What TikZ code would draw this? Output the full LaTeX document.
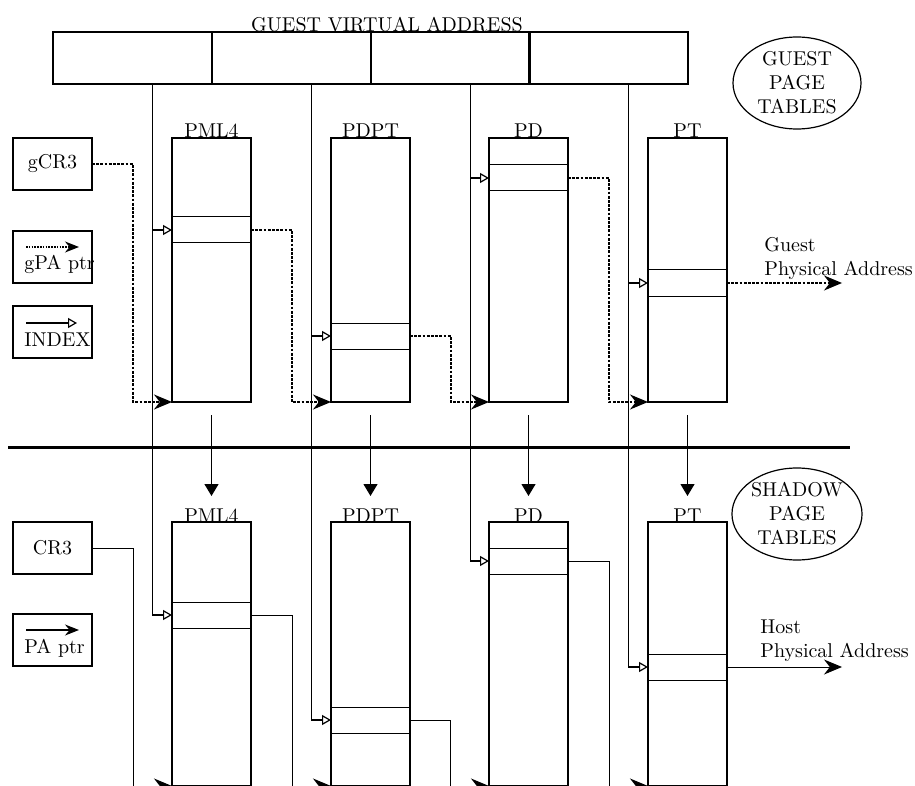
\documentclass[tikz,border=0pt]{standalone}
\usetikzlibrary{arrows.meta,calc,shapes.geometric}
\begin{document}
\begin{tikzpicture}[x=0.5pt,y=-0.5pt,
  tbl/.style={draw,line width=0.6pt,minimum width=39.5pt,minimum height=132pt,inner sep=0,outer sep=0,anchor=north west},
  entry/.style={draw,line width=0.5pt,minimum width=39.5pt,minimum height=13pt,inner sep=0,outer sep=0,anchor=north west},
  gvacell/.style={draw,line width=0.8pt,minimum width=79.5pt,minimum height=26pt,inner sep=0,outer sep=0,anchor=north west},
  legbox/.style={draw,line width=0.6pt,minimum width=39.5pt,minimum height=26pt,inner sep=0,outer sep=0,anchor=north west},
  ttl/.style={anchor=base,inner sep=0},
  gpa/.style={line width=0.7pt,dash pattern=on 1.4pt off 0.7pt,-{Stealth[length=9pt,width=7.5pt]}},
  gpasmall/.style={line width=0.6pt,dash pattern=on 0.8pt off 0.6pt,-{Stealth[length=7pt,width=5.5pt]}},
  pa/.style={line width=0.5pt,-{Stealth[length=9pt,width=7.5pt]}},
  pasmall/.style={line width=0.6pt,-{Stealth[length=7pt,width=5.5pt]}},
  idx/.style={line width=0.6pt,-{Triangle[open,length=4.5pt,width=5pt]}},
  down/.style={line width=0.6pt,-{Triangle[length=6pt,width=7pt]}},
  oval/.style={draw,ellipse,line width=0.6pt,minimum width=64pt,minimum height=46pt,inner sep=0,align=center}
]
\useasboundingbox (0,0) rectangle (915,786);
\clip (0,0) rectangle (915,786);

% Guest virtual address
\node[gvacell] (gva1) at (53,32) {};
\node[gvacell] (gva2) at (212,32) {};
\node[gvacell] (gva3) at (371,32) {};
\node[gvacell] (gva4) at (529,32) {};
\node[ttl] (gvat) at (387,31.5) {GUEST VIRTUAL ADDRESS};

% ellipses
\node[oval] (gpt) at (797,83) {GUEST\\PAGE\\TABLES};
\node[oval] (spt) at (797,514) {SHADOW\\PAGE\\TABLES};

% legend
\node[legbox] (gcr3) at (13,138) {gCR3};
\node[legbox] (lgpa) at (13,231) {};
\node[anchor=base west,inner sep=0] (lgpat) at ($(lgpa.north west)+(11,39)$) {gPA ptr};
\draw[gpasmall] ($(lgpa.north west)+(13,16)$) -- ($(lgpa.north west)+(66,16)$);
\node[legbox] (lidx) at (13,306) {};
\node[anchor=base west,inner sep=0] (lidxt) at ($(lidx.north west)+(11,40)$) {INDEX};
\draw[idx] ($(lidx.north west)+(13,17)$) -- ($(lidx.north west)+(64,17)$);
\node[legbox] (cr3) at (13,522) {CR3};
\node[legbox] (lpa) at (13,614) {};
\node[anchor=base west,inner sep=0] (lpat) at ($(lpa.north west)+(11,39)$) {PA ptr};
\draw[pasmall] ($(lpa.north west)+(13,16)$) -- ($(lpa.north west)+(66,16)$);

% guest tables
\node[tbl] (gPML4) at (172,138) {};
\node[tbl] (gPDPT) at (331,138) {};
\node[tbl] (gPD) at (489,138) {};
\node[tbl] (gPT) at (648,138) {};
\node[ttl] (tgPML4) at (gPML4.north) {PML4};
\node[ttl] (tgPDPT) at (gPDPT.north) {PDPT};
\node[ttl] (tgPD) at (gPD.north) {PD};
\node[ttl] (tgPT) at (gPT.north) {PT};
\node[entry] (gPML4e) at (172,217) {};
\node[entry] (gPDPTe) at (331,323) {};
\node[entry] (gPDe) at (489,165) {};
\node[entry] (gPTe) at (648,270) {};

% shadow tables
\node[tbl] (sPML4) at (172,522) {};
\node[tbl] (sPDPT) at (331,522) {};
\node[tbl] (sPD) at (489,522) {};
\node[tbl] (sPT) at (648,522) {};
\node[ttl] (tsPML4) at (sPML4.north) {PML4};
\node[ttl] (tsPDPT) at (sPDPT.north) {PDPT};
\node[ttl] (tsPD) at (sPD.north) {PD};
\node[ttl] (tsPT) at (sPT.north) {PT};
\node[entry] (sPML4e) at (172,602) {};
\node[entry] (sPDPTe) at (331,707) {};
\node[entry] (sPDe) at (489,548) {};
\node[entry] (sPTe) at (648,654) {};

% index lines
\foreach \c/\g/\s in {gva1/gPML4e/sPML4e, gva2/gPDPTe/sPDPTe, gva3/gPDe/sPDe, gva4/gPTe/sPTe}{
  \draw[idx] ([xshift=10pt]\c.south) |- (\g.west);
  \draw[idx] ([xshift=10pt]\c.south) |- (\s.west);
}

% guest pointers
\coordinate (b0) at (133,402);
\coordinate (b1) at (292,402);
\coordinate (b2) at (451,402);
\coordinate (b3) at (609,402);
\draw[gpa] (gcr3.east) -| (b0) -- (gPML4.south west);
\draw[gpa] (gPML4e.east) -| (b1) -- (gPDPT.south west);
\draw[gpa] (gPDPTe.east) -| (b2) -- (gPD.south west);
\draw[gpa] (gPDe.east) -| (b3) -- (gPT.south west);
\coordinate (gpaout) at (842,283);
\draw[gpa] (gPTe.east) -- (gpaout);
\node[anchor=north west,inner sep=0,align=left] (gpal) at (764,237.5) {Guest\\Physical Address};

% shadow pointers
\coordinate (s0) at (133,786);
\coordinate (s1) at (292,786);
\coordinate (s2) at (450,786);
\coordinate (s3) at (609,786);
\draw[pa] (cr3.east) -| (s0) -- (sPML4.south west);
\draw[pa] (sPML4e.east) -| (s1) -- (sPDPT.south west);
\draw[pa] (sPDPTe.east) -| (s2) -- (sPD.south west);
\draw[pa] (sPDe.east) -| (s3) -- (sPT.south west);
\coordinate (paout) at (842,667);
\draw[pa] (sPTe.east) -- (paout);
\node[anchor=north west,inner sep=0,align=left] (hpal) at (760,619.5) {Host\\Physical Address};

% separator
\coordinate (sepL) at (8,447);
\coordinate (sepR) at (850,447);
\draw[line width=1.5pt] (sepL) -- (sepR);

% down arrows
\foreach \g/\s in {gPML4/sPML4, gPDPT/sPDPT, gPD/sPD, gPT/sPT}{
  \draw[down] ([yshift=-6.5pt]\g.south) -- ([yshift=13pt]\s.north);
}
\end{tikzpicture}
\end{document}
